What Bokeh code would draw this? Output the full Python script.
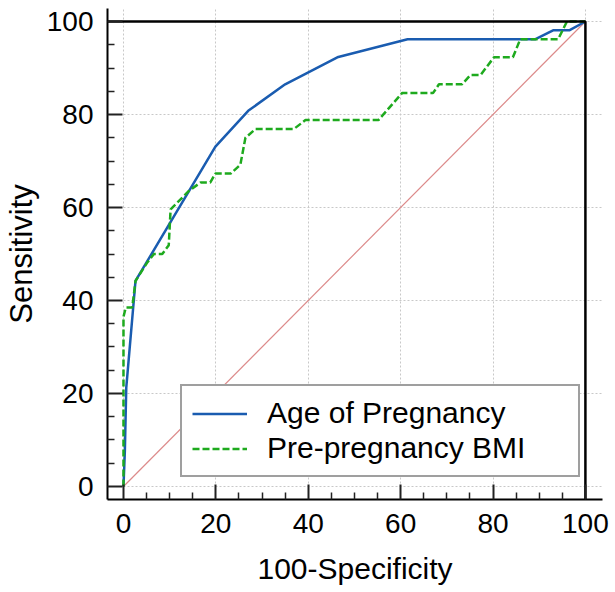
from bokeh.plotting import figure
from bokeh.models import Legend, LegendItem, Range1d, FixedTicker
from bokeh.embed import file_html
from bokeh.resources import INLINE

# ---- data ----
age_fpr = [0, 0.3, 0.6, 2.6, 19.9, 27.0, 35.0, 46.3, 61.5, 89.2, 93.0, 96.5, 100]
age_tpr = [0, 7.7, 21.2, 44.2, 73.1, 80.8, 86.5, 92.3, 96.2, 96.2, 98.1, 98.1, 100]

bmi_fpr = [0, 0, 0.5, 1.9, 2.6, 5.1, 6.6, 8.4, 9.8, 10.2, 14.1, 16.7, 18.8, 19.9,
           23.2, 25.3, 26.4, 28.6, 36.9, 39.4, 55.2, 60.3, 67.0, 68.3, 73.3, 75.1,
           77.3, 80.2, 84.3, 85.9, 94.1, 96.0, 100]
bmi_tpr = [0, 36.5, 38.5, 38.5, 44.2, 48.1, 50.0, 50.0, 51.9, 59.6, 63.5, 65.4, 65.4, 67.3,
           67.3, 69.2, 75.0, 76.9, 76.9, 78.8, 78.8, 84.6, 84.6, 86.5, 86.5, 88.5,
           88.5, 92.3, 92.3, 96.2, 96.2, 100, 100]

ref_x = [0, 100]
ref_y = [0, 100]

major_ticks = [0, 20, 40, 60, 80, 100]
minor_ticks = [t for t in range(5, 100, 5) if t % 20 != 0]

X_LO, X_HI = -3.46, 103.7
Y_LO, Y_HI = -2.8, 102.8
FONT = "Liberation Sans"

p = figure(width=615, height=592,
           x_range=Range1d(X_LO, X_HI), y_range=Range1d(Y_LO, Y_HI),
           output_backend="svg", toolbar_location=None,
           min_border_left=107, min_border_right=13, min_border_top=8, min_border_bottom=93)
p.outline_line_color = None
p.background_fill_color = "white"
p.border_fill_color = "white"

for ax in (p.xaxis[0], p.yaxis[0]):
    ax.ticker = FixedTicker(ticks=major_ticks, minor_ticks=minor_ticks)
    ax.axis_line_width = 2
    ax.axis_line_color = "black"
    ax.major_tick_in = 15
    ax.major_tick_out = 0
    ax.minor_tick_in = 7
    ax.minor_tick_out = 0
    ax.major_tick_line_width = 2
    ax.minor_tick_line_width = 1.5
    ax.major_tick_line_color = "#222222"
    ax.minor_tick_line_color = "#222222"
    ax.major_label_text_font = FONT
    ax.major_label_text_font_size = "28px"
    ax.major_label_text_color = "black"
    ax.major_label_standoff = 14
    ax.axis_label_text_font = FONT
    ax.axis_label_text_font_style = "normal"
    ax.axis_label_text_color = "black"

p.xaxis.axis_label = "100-Specificity"
p.xaxis.axis_label_text_font_size = "30px"
p.xaxis.axis_label_standoff = 16
p.yaxis.axis_label = "Sensitivity"
p.yaxis.axis_label_text_font_size = "31px"
p.yaxis.axis_label_standoff = 5

p.grid.grid_line_color = "#c8c8c8"
p.grid.grid_line_dash = "2 2"
p.grid.grid_line_width = 1

p.line(ref_x, ref_y, line_color="#dc8a8a", line_width=1.2)
r1 = p.line(age_fpr, age_tpr, line_color="#1a5cb0", line_width=2.5)
r2 = p.line(bmi_fpr, bmi_tpr, line_color="#1eaa1e", line_width=2.5, line_dash="7 3")

# box lines at 100
p.line([X_LO, 100, 100], [100, 100, Y_LO], line_color="black", line_width=2.5)

legend = Legend(items=[LegendItem(label="Age of Pregnancy", renderers=[r1]),
                       LegendItem(label="Pre-pregnancy BMI", renderers=[r2])],
                location=(73, 22))
legend.border_line_color = "#404040"
legend.border_line_width = 2
legend.background_fill_color = "white"
legend.background_fill_alpha = 1
legend.padding = 10
legend.spacing = 1
legend.margin = 0
legend.glyph_width = 55
legend.glyph_height = 33
legend.label_height = 33
legend.label_width = 301
legend.label_standoff = 20
legend.label_text_font = FONT
legend.label_text_font_size = "30px"
legend.label_text_color = "black"
p.add_layout(legend)

open("out.html", "w").write(file_html(p, INLINE))
